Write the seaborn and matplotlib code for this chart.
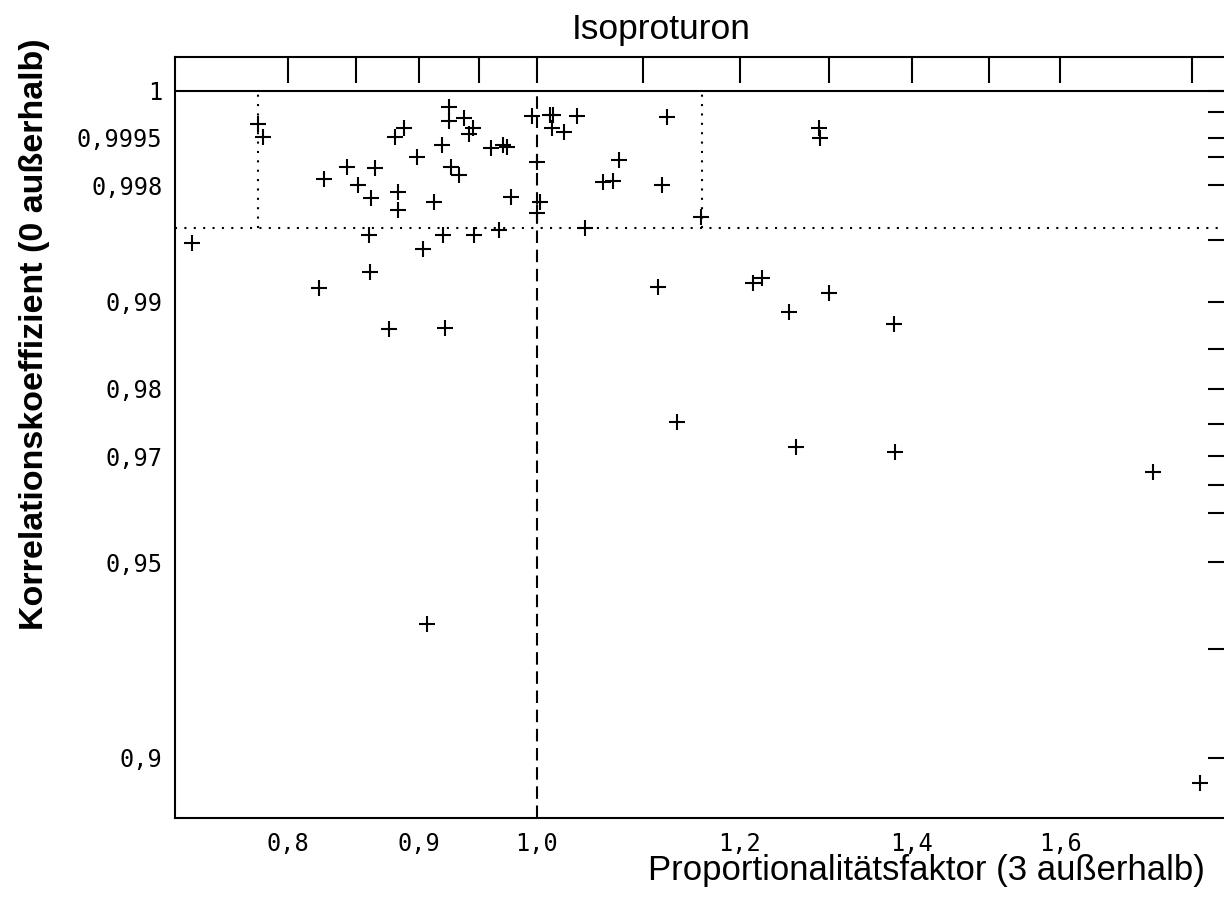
import numpy as np
import pandas as pd
import seaborn as sns
import matplotlib
matplotlib.use("Agg")
import matplotlib.pyplot as plt

# Werte
faktor = [0.7786, 0.7825, 0.7338, 0.8265, 0.8433, 0.8521, 0.8647, 0.8616, 0.8806, 0.8880,
          0.8827, 0.8827, 0.8982, 0.9117, 0.9183, 0.9241, 0.9241, 0.9260, 0.9324, 0.9371,
          0.9408, 0.9442, 0.9596, 0.9705, 0.9734, 0.9769, 0.9955, 1.0000, 1.0030, 1.0000,
          1.0120, 1.0150, 1.0136, 1.0248, 1.0365, 1.0443, 0.8601, 0.9033, 0.9191, 0.9453,
          0.9665, 1.1237, 1.0764, 1.0616, 1.0711, 1.1187, 1.1589, 1.2879, 1.2894, 0.8611,
          0.8223, 0.8761, 0.9210, 1.1153, 1.2145, 1.2244, 1.3002, 1.2541, 1.3779, 1.1345,
          1.2616, 1.3796, 1.7389, 0.9060, 1.8137]
korr = [0.99975, 0.99951, 0.99477, 0.99825, 0.99870, 0.99800, 0.99867, 0.99740, 0.99951, 0.99968,
        0.99771, 0.99680, 0.99902, 0.99720, 0.99934, 0.99994, 0.99979, 0.99868, 0.99840, 0.99983,
        0.99958, 0.99968, 0.99927, 0.99934, 0.99930, 0.99747, 0.99986, 0.99887, 0.99720, 0.99665,
        0.99987, 0.99987, 0.99969, 0.99962, 0.99986, 0.99574, 0.99532, 0.99435, 0.99532, 0.99532,
        0.99562, 0.99985, 0.99892, 0.99814, 0.99818, 0.99800, 0.99643, 0.99969, 0.99949, 0.99264,
        0.99122, 0.98720, 0.98731, 0.99136, 0.99166, 0.99214, 0.99083, 0.98902, 0.98773, 0.97528,
        0.97142, 0.97070, 0.96727, 0.93600, 0.89214]

x_ticks = [0.8, 0.85, 0.9, 0.95, 1.0, 1.1, 1.2, 1.3, 1.4, 1.5, 1.6, 1.8]
x_labels = ["0,8", "", "0,9", "", "1,0", "", "1,2", "", "1,4", "", "1,6", ""]
y_ticks = [0.9, 0.93, 0.95, 0.96, 0.965, 0.97, 0.975, 0.98, 0.985, 0.99,
           0.995, 0.998, 0.999, 0.9995, 0.9999, 1.0]
y_labels = ["0,9", "", "0,95", "", "", "0,97", "", "0,98", "", "0,99",
            "", "0,998", "", "0,9995", "", "1"]

box_x = [0.779, 1.16]
box_r = 0.99575

df = pd.DataFrame({"faktor": faktor, "korr": korr})


def fwd(r):
    d = np.asarray(r, dtype=float) - 1.0
    return np.sign(d) * np.sqrt(np.abs(d))


def inv(u):
    u = np.asarray(u, dtype=float)
    return 1.0 + np.sign(u) * u ** 2


sns.set_style("white")
plt.rcParams['font.family'] = ['Liberation Sans', 'DejaVu Sans']
plt.rcParams['text.color'] = 'black'

fig = plt.figure(figsize=(12.24, 9.07), dpi=100)
ax = fig.add_axes([175 / 1224, 1 - 817.7 / 907, (1234 - 175) / 1224, (817.7 - 56.7) / 907])

ax.set_xscale("log")
ax.set_yscale("function", functions=(fwd, inv))
ax.set_xlim(0.7229, 1.8696)
ax.set_ylim(0.8812, 1.00026)

# Hilfslinien
ax.axhline(1.0, color="black", lw=1.5, zorder=1)
ax.axhline(box_r, color="black", lw=1.5, ls=(0, (1, 3.5)), zorder=1)
ax.vlines(box_x, box_r, 1.0, color="black", lw=1.5, linestyles=[(0, (1, 3.5))], zorder=1)
ax.vlines([1.0], 0.8812, 1.0, color="black", lw=1.5, linestyles=[(0, (6, 3.2))], zorder=1)

sns.scatterplot(data=df, x="faktor", y="korr", marker="+", s=135, color="black",
                linewidth=1.5, ax=ax, zorder=3)

ax.xaxis.set_major_locator(matplotlib.ticker.FixedLocator(x_ticks))
ax.xaxis.set_minor_locator(matplotlib.ticker.NullLocator())
ax.set_xticklabels(x_labels)
ax.yaxis.set_major_locator(matplotlib.ticker.FixedLocator(y_ticks))
ax.yaxis.set_minor_locator(matplotlib.ticker.NullLocator())
ax.set_yticklabels(y_labels)

ax.tick_params(direction="in", length=19, width=1.5, top=True, right=True,
               labelsize=17, pad=9, colors="black")
for lab in ax.get_xticklabels() + ax.get_yticklabels():
    lab.set_family("DejaVu Sans Mono")
ax.tick_params(axis="x", pad=10)

for sp in ax.spines.values():
    sp.set_linewidth(1.5)
    sp.set_color("black")

ax.set_xlabel("")
ax.set_ylabel("")
fig.text(661 / 1224, 1 - 30 / 907, "Isoproturon", ha="center", va="center",
         fontsize=25.5, color="black")
fig.text(1205 / 1224, 1 - 880 / 907, "Proportionalitätsfaktor (3 außerhalb)",
         ha="right", va="baseline", fontsize=25, color="black")
fig.text(35 / 1224, 1 - 334 / 907, "Korrelationskoeffizient (0 außerhalb)",
         ha="center", va="center", rotation=90, fontsize=24.5, fontweight="bold",
         color="black")

fig.savefig("out.png", dpi=100)
